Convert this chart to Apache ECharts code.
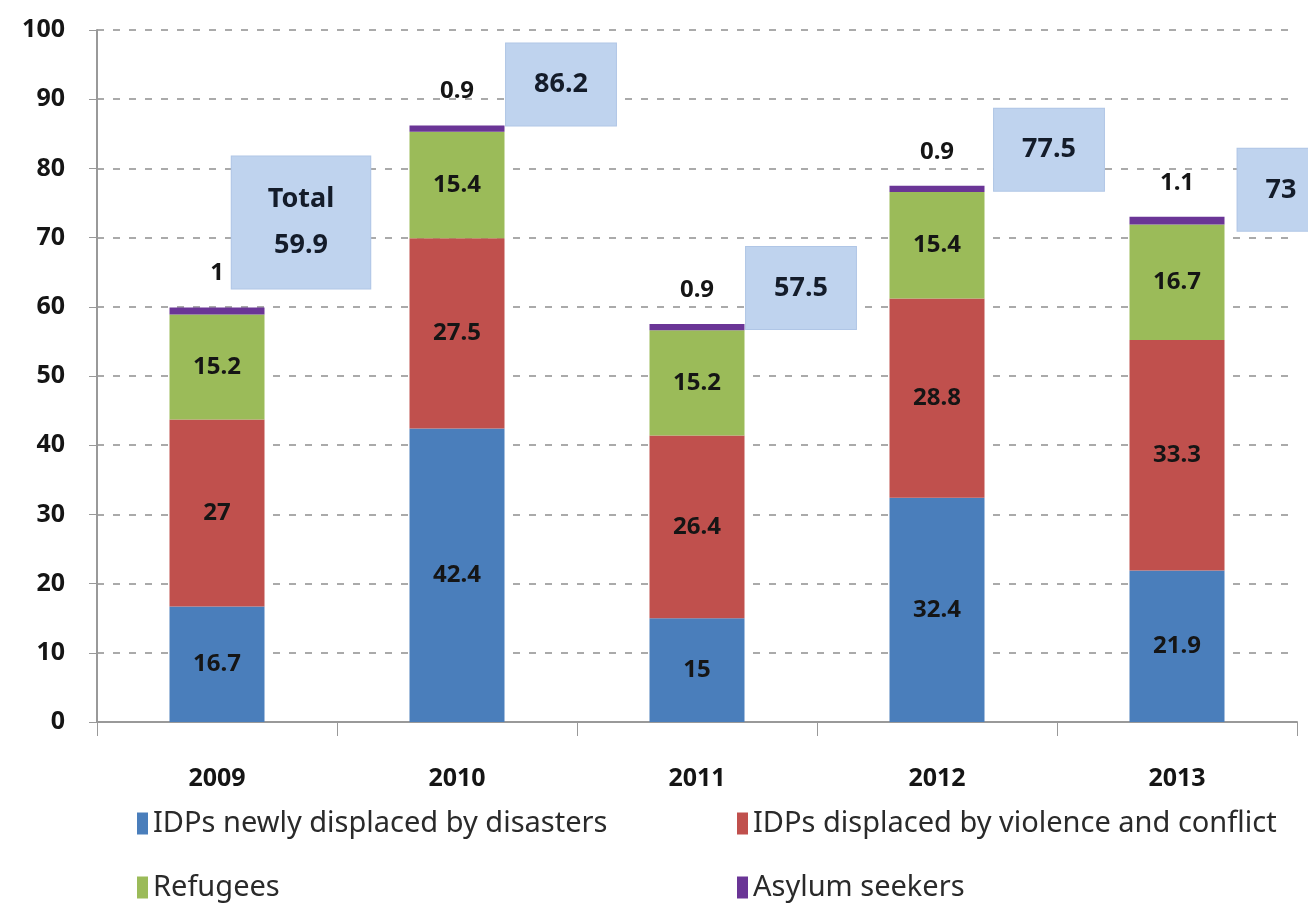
<!DOCTYPE html>
<html>
<head>
<meta charset="utf-8">
<script src="https://cdn.jsdelivr.net/npm/echarts@6/dist/echarts.min.js"></script>
<style>
html,body{margin:0;padding:0;background:#fff;}
#c{width:1308px;height:903px;}
</style>
</head>
<body>
<div id="c"></div>
<script>
const years = ['2009','2010','2011','2012','2013'];
const disasters = [16.7, 42.4, 15, 32.4, 21.9];
const violence = [27, 27.5, 26.4, 28.8, 33.3];
const refugees = [15.2, 15.4, 15.2, 15.4, 16.7];
const asylum = [1, 0.9, 0.9, 0.9, 1.1];
const totals = [59.9, 86.2, 57.5, 77.5, 73];
const yTicks = [0,10,20,30,40,50,60,70,80,90,100];
const names = ['IDPs newly displaced by disasters','IDPs displaced by violence and conflict','Refugees','Asylum seekers'];
const colors = ['#4a7ebb','#c0504d','#9bbb59','#6a3596'];
// label offsets for total boxes (layout, not data)
const totalOffsets = [[84,-85],[104,-41],[104,-36],[112,-36],[104,-27]];

const FONT = 'Noto Sans';
const innerLabel = {show:true, position:'inside', color:'#151515', fontWeight:'bold', fontSize:24, fontFamily:FONT};

function barSeries(name, data, idx){
  return {name, type:'bar', stack:'t', data, barWidth:95, z: idx===3 ? 20 : 2,
    itemStyle:{color:colors[idx]},
    label: idx===3 ? {show:true, position:'top', distance:22, color:'#151515', fontWeight:'bold', fontSize:24, fontFamily:FONT}
                   : innerLabel};
}

const chart = echarts.init(document.getElementById('c'));
const legendBase = {orient:'horizontal', itemWidth:11, itemHeight:22, icon:'rect',
  textStyle:{fontSize:29, fontFamily:FONT, color:'#2a2a2a'}, itemGap:4, selectedMode:false};
chart.setOption({
  backgroundColor:'#fff',
  animation:false,
  grid:{left:97, right:11, top:30, bottom:181},
  xAxis:{type:'category', data:years,
    axisLine:{lineStyle:{color:'#999', width:2}},
    axisTick:{show:true, length:14, lineStyle:{color:'#999'}},
    axisLabel:{margin:44, fontSize:25, fontWeight:'bold', fontFamily:FONT, color:'#151515'}},
  yAxis:{type:'value', min:0, max:100, interval:10,
    axisLine:{show:true, lineStyle:{color:'#999', width:2}},
    axisTick:{show:true, length:8, lineStyle:{color:'#999'}},
    axisLabel:{margin:32, fontSize:25, fontWeight:'bold', fontFamily:FONT, color:'#151515',
      formatter: v => yTicks.includes(v) ? String(v) : ''},
    splitLine:{show:true, lineStyle:{color:'#aaa', type:[7,9], width:2}}},
  legend:[
    Object.assign({}, legendBase, {data:[names[0]], left:132, top:804}),
    Object.assign({}, legendBase, {data:[names[1]], left:732, top:804}),
    Object.assign({}, legendBase, {data:[names[2]], left:132, top:868}),
    Object.assign({}, legendBase, {data:[names[3]], left:732, top:868})
  ],
  series:[
    barSeries(names[0], disasters, 0),
    barSeries(names[1], violence, 1),
    barSeries(names[2], refugees, 2),
    barSeries(names[3], asylum, 3),
    {name:'Total', type:'scatter', symbolSize:0, z:10, itemStyle:{opacity:1},
      data: totals.map((t,i)=>({value:[years[i], t],
        label:{show:true, position:'inside', offset:totalOffsets[i],
          formatter: i===0 ? 'Total\n' + t : String(t),
          lineHeight: 46,
          padding: i===0 ? [20,36,20,36] : [18,28,18,28]}})),
      label:{show:true, color:'#141c2a', fontWeight:'bold', fontSize:27, fontFamily:FONT,
        backgroundColor:'#bfd3ee', borderColor:'#b0c6e6', borderWidth:1}}
  ]
});
</script>
</body>
</html>
